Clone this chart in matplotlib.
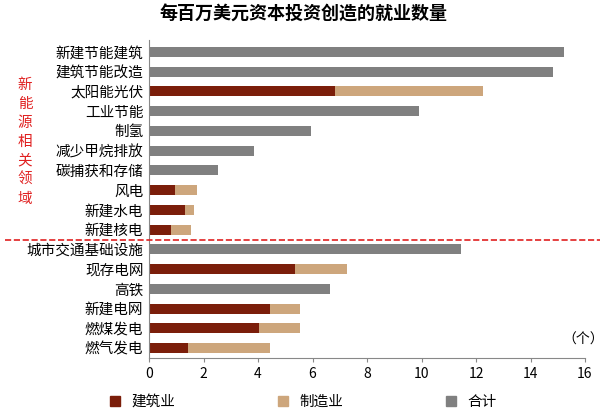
import matplotlib.pyplot as plt
from matplotlib.lines import Line2D

plt.rcParams['font.family'] = 'Noto Sans CJK SC'

categories = ['新建节能建筑', '建筑节能改造', '太阳能光伏', '工业节能', '制氢', '减少甲烷排放',
              '碳捕获和存储', '风电', '新建水电', '新建核电', '城市交通基础设施', '现存电网',
              '高铁', '新建电网', '燃煤发电', '燃气发电']
construction = [0, 0, 6.83, 0, 0, 0, 0, 0.95, 1.32, 0.81, 0, 5.36, 0, 4.44, 4.04, 1.43]
manufacturing = [0, 0, 5.43, 0, 0, 0, 0, 0.81, 0.33, 0.73, 0, 1.91, 0, 1.10, 1.50, 3.01]
total = [15.23, 14.83, 12.26, 9.9, 5.95, 3.85, 2.53, 1.76, 1.65, 1.54, 11.45, 7.27, 6.64, 5.54, 5.54, 4.44]

c_con, c_man, c_tot = '#7B1E0A', '#CDA67C', '#808080'

fig = plt.figure(figsize=(6.07, 4.11), dpi=100)
ax = fig.add_axes([149/607, 1 - 358/411, 436/607, 318/411])

y = list(range(len(categories)))
gray_vals = [t if c == 0 else 0 for t, c in zip(total, construction)]
ax.barh(y, gray_vals, height=0.5, color=c_tot)
ax.barh(y, construction, height=0.5, color=c_con)
ax.barh(y, manufacturing, left=construction, height=0.5, color=c_man)

ax.set_yticks(y)
ax.set_yticklabels(categories, fontsize=10.5)
ax.set_ylim(len(categories) - 0.5, -0.6)
ax.set_xlim(0, 16)
ax.set_xticks(range(0, 17, 2))
ax.tick_params(axis='x', labelsize=10, length=3, color='#888888')
ax.tick_params(axis='y', length=0, pad=4)
for s in ['top', 'right']:
    ax.spines[s].set_visible(False)
for s in ['left', 'bottom']:
    ax.spines[s].set_color('#888888')

fig.text(0.5, 0.965, '每百万美元资本投资创造的就业数量', ha='center', va='center',
         fontsize=13, fontweight='bold')
fig.add_artist(Line2D([5/607, 600/607], [1 - 240/411] * 2, color='#E02020',
                      linestyle='--', linewidth=1.2))
fig.text(25/607, 1 - 142/411, '\n'.join('新能源相关领域'), ha='center', va='center',
         fontsize=10.5, color='#E02020', linespacing=1.45)
fig.text(583/607, 1 - 340/411, '（个）', ha='center', va='center', fontsize=10)

handles = [plt.Rectangle((0, 0), 1, 1, color=c) for c in (c_con, c_man, c_tot)]
fig.legend(handles, ['建筑业', '制造业', '合计'], loc='center', ncol=3,
           bbox_to_anchor=(0.5, 1 - 402/411), frameon=False, fontsize=10.5,
           handlelength=0.7, handleheight=0.7, columnspacing=7)

fig.savefig('out.png', dpi=100)
